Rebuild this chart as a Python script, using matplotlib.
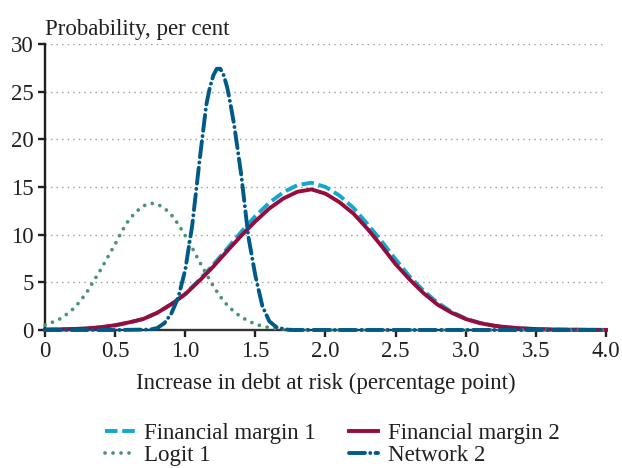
import matplotlib
matplotlib.use("Agg")
import matplotlib.pyplot as plt
import numpy as np

# x grid (percentage points) shared by the two financial margin curves
x_fm = np.round(np.arange(0, 4.01, 0.1), 2)

fin_margin_1 = [0.03, 0.05, 0.08, 0.14, 0.27, 0.47, 0.78, 1.15, 1.8, 2.7,
                3.8, 5.25, 6.85, 8.55, 10.3, 11.95, 13.35, 14.45, 15.2, 15.45,
                15.0, 14.1, 12.8, 11.1, 9.3, 7.4, 5.6, 4.1, 2.85, 1.9,
                1.2, 0.75, 0.45, 0.27, 0.16, 0.09, 0.05, 0.03, 0.02, 0.01, 0.0]

fin_margin_2 = [0.05, 0.07, 0.1, 0.17, 0.3, 0.5, 0.8, 1.15, 1.8, 2.7,
                3.75, 5.15, 6.65, 8.3, 9.9, 11.4, 12.75, 13.8, 14.5, 14.75,
                14.3, 13.4, 12.2, 10.6, 8.8, 6.9, 5.3, 3.85, 2.65, 1.8,
                1.15, 0.72, 0.45, 0.28, 0.17, 0.1, 0.06, 0.04, 0.03, 0.02, 0.01]

x_logit = [0.0, 0.05, 0.1, 0.15, 0.2, 0.25, 0.3, 0.35, 0.4, 0.45,
           0.5, 0.55, 0.6, 0.65, 0.7, 0.75, 0.8, 0.85, 0.9, 0.95,
           1.0, 1.05, 1.1, 1.15, 1.2, 1.25, 1.3, 1.35, 1.4, 1.45,
           1.5, 1.55, 1.6, 1.65, 1.7, 1.8, 2.0, 3.0, 4.0]
logit_1 = [0.5, 0.8, 1.1, 1.6, 2.2, 3.0, 4.0, 5.2, 6.4, 7.7,
           9.0, 10.4, 11.6, 12.4, 13.0, 13.3, 13.2, 12.8, 12.1, 11.1,
           9.9, 8.6, 7.2, 5.9, 4.6, 3.5, 2.6, 1.9, 1.35, 0.95,
           0.6, 0.4, 0.25, 0.15, 0.08, 0.03, 0.0, 0.0, 0.0]

x_network = [0.0, 0.5, 0.75, 0.8, 0.85, 0.9, 0.95, 1.0, 1.05, 1.1,
             1.15, 1.175, 1.2, 1.225, 1.25, 1.275, 1.3, 1.325, 1.35, 1.4,
             1.45, 1.5, 1.55, 1.6, 1.65, 1.7, 1.75, 2.0, 3.0, 4.0]
network_2 = [0.0, 0.0, 0.05, 0.2, 0.7, 1.7, 3.4, 6.3, 11.0, 17.5,
             23.6, 25.4, 26.7, 27.4, 27.4, 26.7, 25.4, 23.5, 21.4, 16.2,
             9.8, 5.7, 2.5, 0.9, 0.3, 0.1, 0.0, 0.0, 0.0, 0.0]

x_ticks = [0, 0.5, 1.0, 1.5, 2.0, 2.5, 3.0, 3.5, 4.0]
x_ticklabels = ['0', '0.5', '1.0', '1.5', '2.0', '2.5', '3.0', '3.5', '4.0']
y_ticks = [0, 5, 10, 15, 20, 25, 30]

text_col = '#231f20'
plt.rcParams['font.family'] = ['Liberation Serif', 'DejaVu Serif']
plt.rcParams['font.size'] = 16
plt.rcParams['lines.scale_dashes'] = False

fig = plt.figure(figsize=(6.22, 4.68), dpi=100)
ax = fig.add_axes([0.0723, 0.2949, 0.9020, 0.6111])

lw = 2.8
l1, = ax.plot(x_fm, fin_margin_1, color='#12a7cf', lw=lw,
              linestyle=(0, (9.0, 3.4)), clip_on=False, zorder=3)
l2, = ax.plot(x_fm, fin_margin_2, color='#980b3d', lw=lw,
              clip_on=False, zorder=4)
l3, = ax.plot(x_logit, logit_1, color='#4d9274', lw=2.7,
              linestyle=(0, (0.05, 5.7)), dash_capstyle='round',
              clip_on=False, zorder=5)
l4, = ax.plot(x_network, network_2, color='#005a88', lw=lw,
              linestyle=(0, (11.5, 3.8, 0.05, 3.8)), dash_capstyle='round',
              clip_on=False, zorder=6)

ax.set_xlim(0, 4.0)
ax.set_ylim(0, 30)
ax.set_xticks(x_ticks)
ax.set_xticklabels(x_ticklabels)
ax.set_yticks(y_ticks)

# dotted grey gridlines
ax.grid(axis='y', color='#9a9a9a', linestyle=(0, (1.0, 3.0)), lw=1.0)
ax.grid(axis='x', visible=False)

for side in ['top', 'right']:
    ax.spines[side].set_visible(False)
ax.spines['left'].set_color(text_col)
ax.spines['left'].set_linewidth(1.7)
ax.spines['bottom'].set_color('#333333')
ax.spines['bottom'].set_linewidth(1.7)
ax.spines['bottom'].set_zorder(2)

ax.tick_params(axis='both', direction='out', length=5, width=1.7,
               colors=text_col, labelsize=16.5, pad=3)

ax.text(0.0, 1.015, 'Probability, per cent', transform=ax.transAxes,
        ha='left', va='bottom', fontsize=16.5, color=text_col)
ax.set_xlabel('Increase in debt at risk (percentage point)', fontsize=16.5,
              color=text_col, labelpad=8)

handles = [l1, l3, l2, l4]
labels = ['Financial margin 1', 'Logit 1', 'Financial margin 2', 'Network 2']
fig.legend(handles, labels, ncol=2, loc='lower center',
           bbox_to_anchor=(0.534, -0.04), frameon=False, fontsize=16.5,
           handlelength=1.3, handletextpad=0.4, columnspacing=1.45,
           labelspacing=0.06, labelcolor=text_col)

fig.savefig('out.png', dpi=100)
plt.close()
